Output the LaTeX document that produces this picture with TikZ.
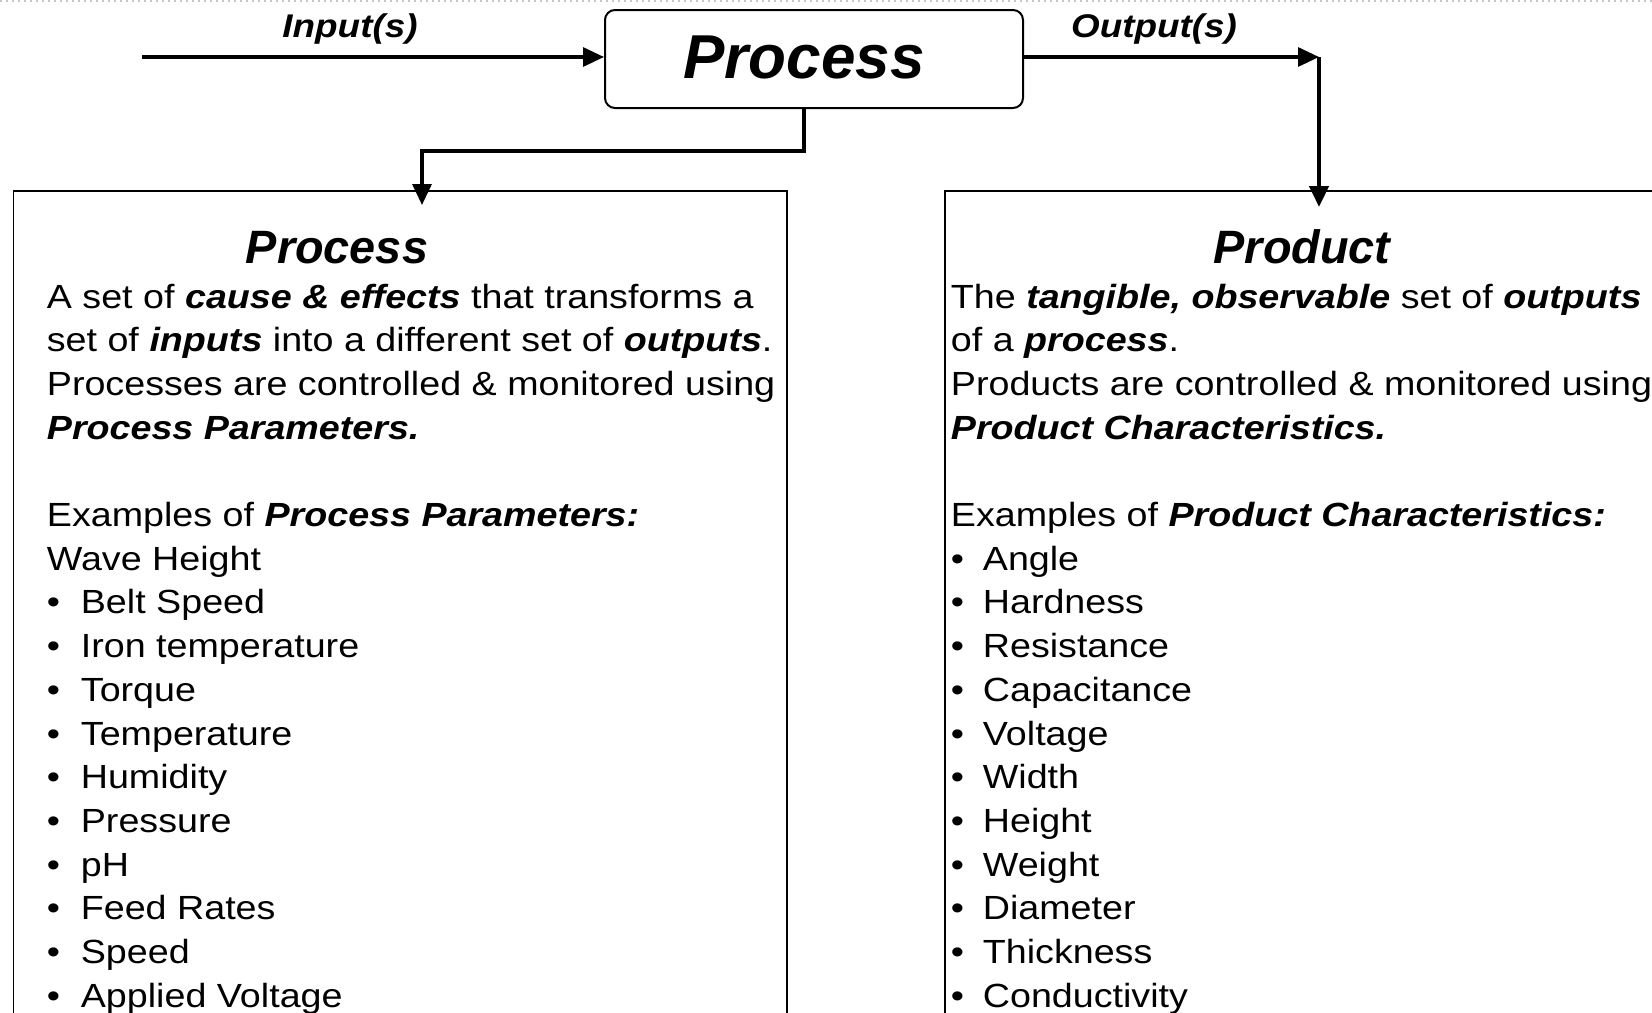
\documentclass[tikz,border=0pt]{standalone}
\usepackage{fontspec}
\setmainfont{Liberation Sans}
\newfontfamily\bodyfont[FakeStretch=1.124]{Liberation Sans}
\usetikzlibrary{arrows.meta}
\newcommand{\bitext}[1]{\textbf{\textit{#1}}}
\newcommand{\bulitem}[2][17pt]{\makebox[#1][l]{•}#2}

\begin{document}
\begin{tikzpicture}[x=0.5pt,y=-0.5pt,
  conn/.style={line width=1.6pt, -{Triangle[length=10.5pt,width=9.5pt]}},
  boxline/.style={draw, line width=0.75pt, anchor=north west, inner sep=0pt},
  txt/.style={anchor=base west, inner sep=0pt, font=\bodyfont\fontsize{16.75}{20}\selectfont},
  lbl/.style={anchor=base, inner sep=0pt, font=\bodyfont\fontsize{16.4}{20}\selectfont\bfseries\itshape},
  ttl/.style={anchor=base, inner sep=0pt, font=\fontsize{23.4}{28}\selectfont\bfseries\itshape}
]
\useasboundingbox (0,0) rectangle (1652,1012);
\clip (0,0) rectangle (1652,1012);

% top dotted rule
\draw[gray!45, line width=0.6pt, dash pattern=on 1pt off 2pt] (0,1) -- (1652,1);

% central process box
\node[draw, rounded corners=5pt, line width=1pt, minimum width=209pt, minimum height=49pt, inner sep=0pt] (proc) at (814,59) {};
\node[anchor=base, inner sep=0pt, font=\fontsize{31}{36}\selectfont\bfseries\itshape] (proctext) at (804,78) {Process};

% lower boxes (open at the bottom, cut by the page)
\node[boxline, minimum width=386.65pt, minimum height=450pt] (pbox) at (12.7,190) {};
\node[boxline, minimum width=400pt, minimum height=450pt] (dbox) at (944,190) {};

% connectors
\coordinate (inS) at (142,57);
\coordinate (outC) at (1319,57);
\coordinate (outTip) at (1319,207);
\coordinate (pTip) at (422,205);
\draw[conn] (inS) -- (inS -| proc.west);
\draw[conn] (proc.east |- inS) -- (outC);
\draw[conn, line width=2.2pt] (outC) -- (outTip);
\draw[conn] (proctext |- proc.south) -- ++(0,42) -| (pTip);

\node[lbl] (inlbl) at (350,37) {Input(s)};
\node[lbl] (outlbl) at (1154,37) {Output(s)};

% titles
\node[ttl] (ptitle) at (337,263) {Process};
\node[ttl] (dtitle) at (1302,263) {Product};

% left text
\node[txt] (L1) at (46.5,308) {A set of \bitext{cause \& effects} that transforms a};
\node[txt] (L2) at (46.5,351.7) {set of \bitext{inputs} into a different set of \bitext{outputs}.};
\node[txt] (L3) at (46.5,395.4) {Processes are controlled \& monitored using};
\node[txt] (L4) at (46.5,439.1) {\bitext{Process Parameters.}};
\node[txt] (L6) at (46.5,526.5) {Examples of \bitext{Process Parameters:}};
\node[txt] (L7) at (46.5,570.2) {Wave Height};
\node[txt] (L8) at (46.5,613.9) {\bulitem{Belt Speed}};
\node[txt] (L9) at (46.5,657.6) {\bulitem{Iron temperature}};
\node[txt] (L10) at (46.5,701.3) {\bulitem{Torque}};
\node[txt] (L11) at (46.5,745.0) {\bulitem{Temperature}};
\node[txt] (L12) at (46.5,788.7) {\bulitem{Humidity}};
\node[txt] (L13) at (46.5,832.4) {\bulitem{Pressure}};
\node[txt] (L14) at (46.5,876.1) {\bulitem{pH}};
\node[txt] (L15) at (46.5,919.8) {\bulitem{Feed Rates}};
\node[txt] (L16) at (46.5,963.5) {\bulitem{Speed}};
\node[txt] (L17) at (46.5,1007.2) {\bulitem{Applied Voltage}};

% right text
\node[txt] (R1) at (950.5,308) {The \bitext{tangible, observable} set of \bitext{outputs}};
\node[txt] (R2) at (950.5,351.7) {of a \bitext{process}.};
\node[txt] (R3) at (950.5,395.4) {Products are controlled \& monitored using};
\node[txt] (R4) at (950.5,439.1) {\bitext{Product Characteristics.}};
\node[txt] (R6) at (950.5,526.5) {Examples of \bitext{Product Characteristics:}};
\node[txt] (R7) at (950.5,570.2) {\bulitem[16pt]{Angle}};
\node[txt] (R8) at (950.5,613.9) {\bulitem[16pt]{Hardness}};
\node[txt] (R9) at (950.5,657.6) {\bulitem[16pt]{Resistance}};
\node[txt] (R10) at (950.5,701.3) {\bulitem[16pt]{Capacitance}};
\node[txt] (R11) at (950.5,745.0) {\bulitem[16pt]{Voltage}};
\node[txt] (R12) at (950.5,788.7) {\bulitem[16pt]{Width}};
\node[txt] (R13) at (950.5,832.4) {\bulitem[16pt]{Height}};
\node[txt] (R14) at (950.5,876.1) {\bulitem[16pt]{Weight}};
\node[txt] (R15) at (950.5,919.8) {\bulitem[16pt]{Diameter}};
\node[txt] (R16) at (950.5,963.5) {\bulitem[16pt]{Thickness}};
\node[txt] (R17) at (950.5,1007.2) {\bulitem[16pt]{Conductivity}};
\end{tikzpicture}
\end{document}
